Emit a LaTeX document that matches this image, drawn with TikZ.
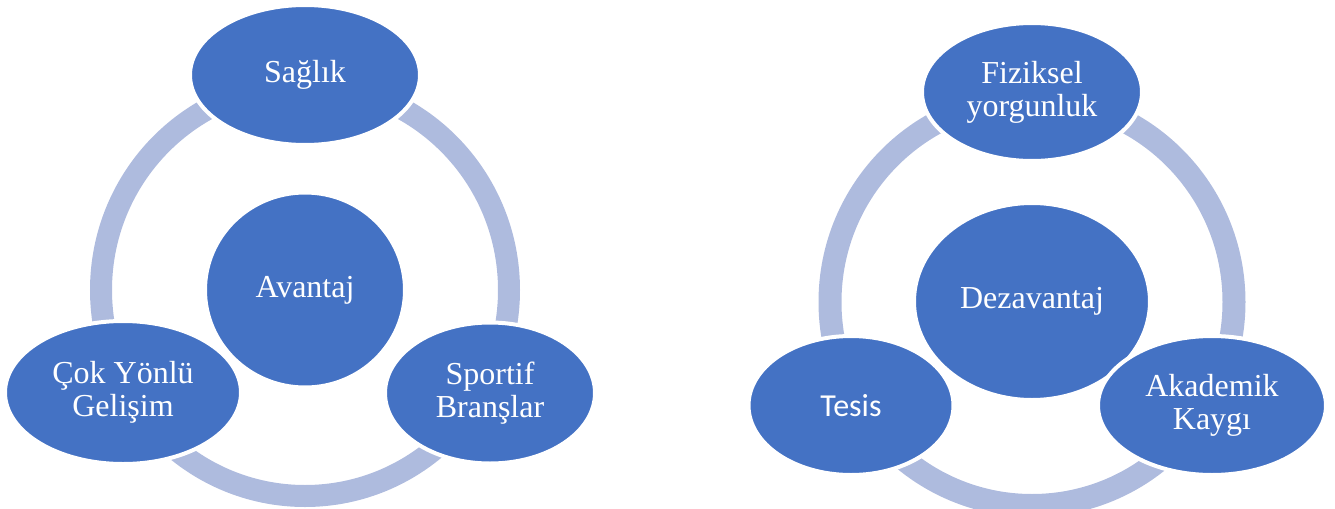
\documentclass[tikz,border=0pt]{standalone}
\usepackage{fontspec}
\setmainfont{Liberation Serif}
\newfontfamily\calibrifont{Carlito}
\usetikzlibrary{shapes.geometric, positioning}
\definecolor{nodeblue}{RGB}{68, 114, 196}
\definecolor{ringblue}{RGB}{174, 187, 222}

\begin{document}
\begin{tikzpicture}[
    x=0.5pt, y=-0.5pt,
    bubble/.style={ellipse, inner sep=0pt, text centered, align=center, draw=white, line width=2pt, fill=nodeblue, text=white, font=\fontsize{16}{16.5}\selectfont},
    ring/.style={draw=ringblue, line width=11pt}
]
\useasboundingbox (0,0) rectangle (1335,509);

% left cycle
\coordinate (ringL) at (305,290);
\draw [ring] (ringL) ellipse (204 and 206);

\node (avantaj) [bubble, minimum width=100pt, minimum height=97.5pt] at (305,290) {Avantaj};
\node (saglik) [bubble, minimum width=115pt, minimum height=70pt] at (305,75) {Sağlık};
\node (cokyonlu) [bubble, minimum width=118pt, minimum height=71.5pt] at (123,392.5) {Çok Yönlü\\Gelişim};
\node (sportif) [bubble, minimum width=105pt, minimum height=70.5pt] at (490,393) {Sportif\\Branşlar};

% right cycle
\coordinate (ringR) at (1032,302);
\draw [ring, line width=11.5pt] (ringR) ellipse (202 and 203.5);

\node (dezavantaj) [bubble, minimum width=118pt, minimum height=98.5pt] at (1032,301.5) {Dezavantaj};
\node (fiziksel) [bubble, minimum width=110pt, minimum height=69pt] at (1032,92) {Fiziksel\\yorgunluk};
\node (tesis) [bubble, minimum width=102.5pt, minimum height=69.5pt, font=\calibrifont\fontsize{16}{18}\selectfont] at (851,405.5) {Tesis};
\node (akademik) [bubble, minimum width=114pt, minimum height=69.5pt] at (1212,405.5) {Akademik\\Kaygı};

\end{tikzpicture}
\end{document}
